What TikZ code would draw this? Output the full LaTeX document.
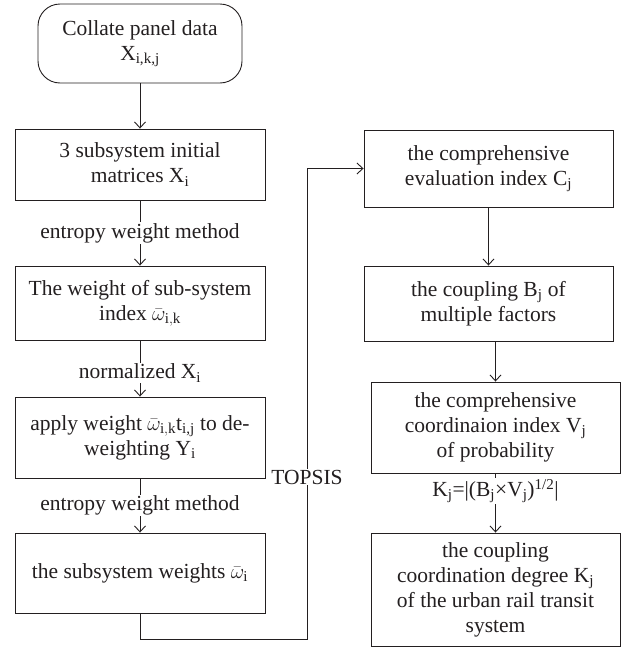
\documentclass[tikz,border=0pt]{standalone}
\usepackage{fontspec}
\setmainfont{Liberation Serif}
\usetikzlibrary{arrows.meta,calc}
\definecolor{ink}{HTML}{231F20}
\tikzset{
  box/.style={draw=ink,line width=0.9pt,align=center,inner sep=2pt},
  flow/.style={draw=ink,line width=0.9pt,-{Straight Barb[length=6pt,width=11pt]}},
  lab/.style={fill=white,inner sep=1pt,text=ink}
}
\newcommand{\wbar}[1]{$\bar{\omega}_{\mathrm{#1}}$}

\begin{document}
\begin{tikzpicture}[x=1pt,y=-1pt,font=\fontsize{21.5}{25}\selectfont,text=ink]
  \useasboundingbox (0,0) rectangle (628,648);
  % left column
  \node[box,rounded corners=22pt,minimum width=204,minimum height=79] (data) at (140,43.5) {Collate panel data\\X\textsubscript{i,k,j}};
  \node[box,minimum width=250,minimum height=71] (init) at (140,164.5) {3 subsystem initial\\matrices X\textsubscript{i}};
  \node[box,minimum width=250,minimum height=74] (idxw) at (140,303) {The weight of sub-system\\index \wbar{i,k}};
  \node[box,minimum width=250,minimum height=81] (dew) at (140,437.5) {apply weight \wbar{i,k}t\textsubscript{i,j} to de-\\weighting Y\textsubscript{i}};
  \node[box,minimum width=250,minimum height=80] (subw) at (140,573) {the subsystem weights \wbar{i}};
  % right column
  \node[box,minimum width=249,minimum height=77] (evalC) at (488.5,168.5) {the comprehensive\\evaluation index C\textsubscript{j}};
  \node[box,minimum width=249,minimum height=75] (coupB) at (488.5,303.5) {the coupling B\textsubscript{j} of\\multiple factors};
  \node[box,minimum width=249,minimum height=91] (coordV) at (495.5,427.5) {the comprehensive\\coordinaion index V\textsubscript{j}\\of probability};
  \node[box,minimum width=249,minimum height=113] (degK) at (495.5,589.5) {the coupling\\coordination degree K\textsubscript{j}\\of the urban rail transit\\system};
  % arrows, left
  \draw[flow] (data) -- (init);
  \draw[flow] (init) -- node[lab]{entropy weight method} (idxw);
  \draw[flow] (idxw) -- node[lab,pos=0.58]{normalized X\textsubscript{i}} (dew);
  \draw[flow] (dew) -- node[lab]{entropy weight method} (subw);
  % TOPSIS link
  \coordinate (turn) at (307,639);
  \draw[flow] (subw.south) |- (turn) |- (evalC.west);
  \node[lab] (topsis) at (307,477) {TOPSIS};
  % arrows, right
  \draw[flow] (evalC) -- (coupB);
  \draw[flow] (coordV.north |- coupB.south) -- (coordV.north);
  \draw[flow] (coordV) -- node[lab,pos=0.3]{K\textsubscript{j}=|(B\textsubscript{j}×V\textsubscript{j})\textsuperscript{1/2}|} (degK);
\end{tikzpicture}
\end{document}
